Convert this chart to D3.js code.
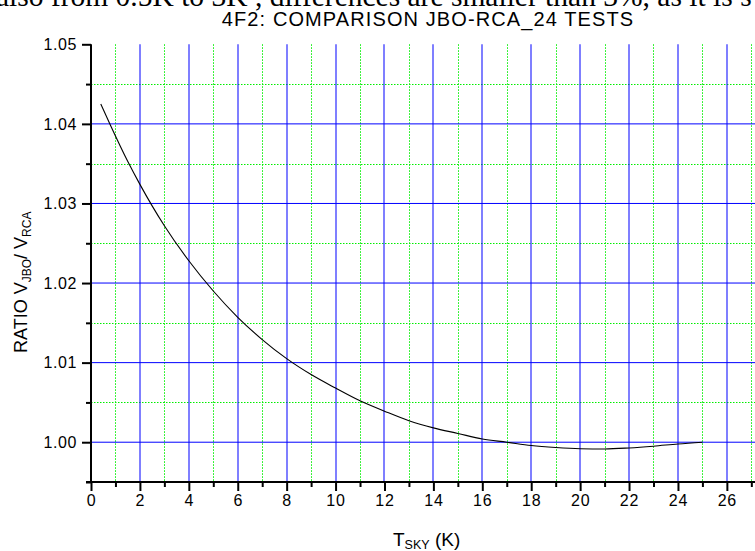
<!DOCTYPE html>
<html>
<head>
<meta charset="utf-8">
<script src="https://cdn.jsdelivr.net/npm/d3@7/dist/d3.min.js"></script>
<style>
  html, body { margin: 0; padding: 0; background: #fff; overflow: hidden; }
  svg { display: block; }
</style>
</head>
<body>
<svg id="chart" width="755" height="551"></svg>
<script>
// ---- data ----
const tsky  = [0.4, 0.8, 1.5, 2, 2.5, 3, 4, 5, 6, 7, 8, 9, 10, 11, 12, 13, 14, 15, 16, 17, 18, 19, 20, 21, 22, 23, 24, 25];
const ratio = [1.0425, 1.0398, 1.0353, 1.0324, 1.0297, 1.0272, 1.0228, 1.0190, 1.0157, 1.0129, 1.0105, 1.0085, 1.0068, 1.0052, 1.0039, 1.0027, 1.0018, 1.0011, 1.0004, 1.0000, 0.99958, 0.99933, 0.99918, 0.99915, 0.99928, 0.99950, 0.99978, 1.0000];
const xMajorTicks = [0, 2, 4, 6, 8, 10, 12, 14, 16, 18, 20, 22, 24, 26];
const xMinorTicks = [1, 3, 5, 7, 9, 11, 13, 15, 17, 19, 21, 23, 25, 27];
const yMajorTicks = [1.00, 1.01, 1.02, 1.03, 1.04, 1.05];
const yMinorTicks = [0.995, 1.005, 1.015, 1.025, 1.035, 1.045];
const titleText = "4F2: COMPARISON JBO-RCA_24 TESTS";
const headerText = "also from 0.5K to 3K , differences are smaller than 3%, as it is s";

// ---- layout ----
const L = 91, R = 766, T = 44.3, B = 482;
const svg = d3.select("#chart");
const x = d3.scaleLinear().domain([0, 27.6]).range([L, R]);
const y = d3.scaleLinear().domain([0.995, 1.05]).range([B, T]);

// header (cut-off serif text, as in the reference)
svg.append("text")
  .attr("x", -4).attr("y", 5.5)
  .attr("font-family", "'Liberation Serif', 'Times New Roman', serif")
  .attr("font-size", 29.5)
  .attr("fill", "#000")
  .text(headerText);

// title
svg.append("text")
  .attr("x", 428).attr("y", 26)
  .attr("text-anchor", "middle")
  .attr("font-family", "'Liberation Sans', Arial, sans-serif")
  .attr("font-size", 20)
  .attr("letter-spacing", 1.1)
  .attr("fill", "#000")
  .text(titleText);

const grid = svg.append("g");
// minor grid (green dotted)
grid.selectAll(".vminor").data(xMinorTicks).join("line")
  .attr("x1", d => Math.round(x(d)) + 0.5).attr("x2", d => Math.round(x(d)) + 0.5)
  .attr("y1", T).attr("y2", B)
  .attr("stroke", "#00ee00").attr("stroke-width", 1).attr("stroke-dasharray", "1.5,1.5");
grid.selectAll(".hminor").data(yMinorTicks.filter(d => d > 1)).join("line")
  .attr("x1", L).attr("x2", 755)
  .attr("y1", d => Math.round(y(d)) + 0.5).attr("y2", d => Math.round(y(d)) + 0.5)
  .attr("stroke", "#00ee00").attr("stroke-width", 1).attr("stroke-dasharray", "1.5,1.5");
// major grid (blue)
grid.selectAll(".vmajor").data(xMajorTicks.filter(d => d > 0)).join("line")
  .attr("x1", d => Math.round(x(d))).attr("x2", d => Math.round(x(d)))
  .attr("y1", T).attr("y2", B)
  .attr("stroke", "#0000ff").attr("stroke-opacity", 0.5).attr("stroke-width", 2);
grid.selectAll(".hmajor").data(yMajorTicks.filter(d => d < 1.05)).join("line")
  .attr("x1", L).attr("x2", 755)
  .attr("y1", d => y(d)).attr("y2", d => y(d))
  .attr("stroke", "#0000ff").attr("stroke-width", 1);

// curve
const line = d3.line().x((d, i) => x(tsky[i])).y(d => y(d)).curve(d3.curveMonotoneX);
svg.append("path")
  .attr("d", line(ratio))
  .attr("fill", "none").attr("stroke", "#000").attr("stroke-width", 1.1);

// axes
const fontAx = "'Liberation Sans', Arial, sans-serif";
const xAxis = d3.axisBottom(x).tickValues(xMajorTicks).tickSize(9).tickSizeOuter(0).tickPadding(4)
  .tickFormat(d3.format("d"));
const gx = svg.append("g").attr("transform", `translate(0,${B})`).call(xAxis);
gx.select(".domain").attr("stroke-width", 2).attr("d", `M${L - 5},0H755`);
gx.selectAll(".tick line").attr("stroke-width", 2);
gx.selectAll(".tick text").attr("font-family", fontAx).attr("font-size", 16).attr("letter-spacing", 0.8)
  .attr("fill", "#000");
const gxm = svg.append("g").attr("transform", `translate(0,${B})`)
  .call(d3.axisBottom(x).tickValues(xMinorTicks).tickSize(5).tickFormat(""));
gxm.select(".domain").remove();
gxm.selectAll(".tick line").attr("stroke-width", 2);

const yAxis = d3.axisLeft(y).tickValues(yMajorTicks).tickSize(9).tickSizeOuter(0).tickPadding(5)
  .tickFormat(d3.format(".2f"));
const gy = svg.append("g").attr("transform", `translate(${L},0)`).call(yAxis);
gy.select(".domain").attr("stroke-width", 2).attr("d", `M0,${T}V${B + 1}`);
gy.selectAll(".tick line").attr("stroke-width", 2);
gy.selectAll(".tick text").attr("font-family", fontAx).attr("font-size", 16).attr("letter-spacing", 0.6)
  .attr("fill", "#000");
const gym = svg.append("g").attr("transform", `translate(${L},0)`)
  .call(d3.axisLeft(y).tickValues(yMinorTicks).tickSize(5).tickFormat(""));
gym.select(".domain").remove();
gym.selectAll(".tick line").attr("stroke-width", 2);

// x label
const xl = svg.append("text").attr("x", 393).attr("y", 545.5)
  .attr("font-family", fontAx).attr("font-size", 19).attr("fill", "#000");
xl.append("tspan").text("T");
xl.append("tspan").attr("font-size", 12.5).attr("dy", 3.5).text("SKY");
xl.append("tspan").attr("dy", -3.5).text(" (K)");

// y label
const yl = svg.append("text").attr("transform", "translate(27,353) rotate(-90)")
  .attr("font-family", fontAx).attr("font-size", 18).attr("fill", "#000");
yl.append("tspan").text("RATIO V");
yl.append("tspan").attr("font-size", 12).attr("dy", 4).text("JBO");
yl.append("tspan").attr("dy", -4).text("/ V");
yl.append("tspan").attr("font-size", 12).attr("dy", 4).text("RCA");
</script>
</body>
</html>
